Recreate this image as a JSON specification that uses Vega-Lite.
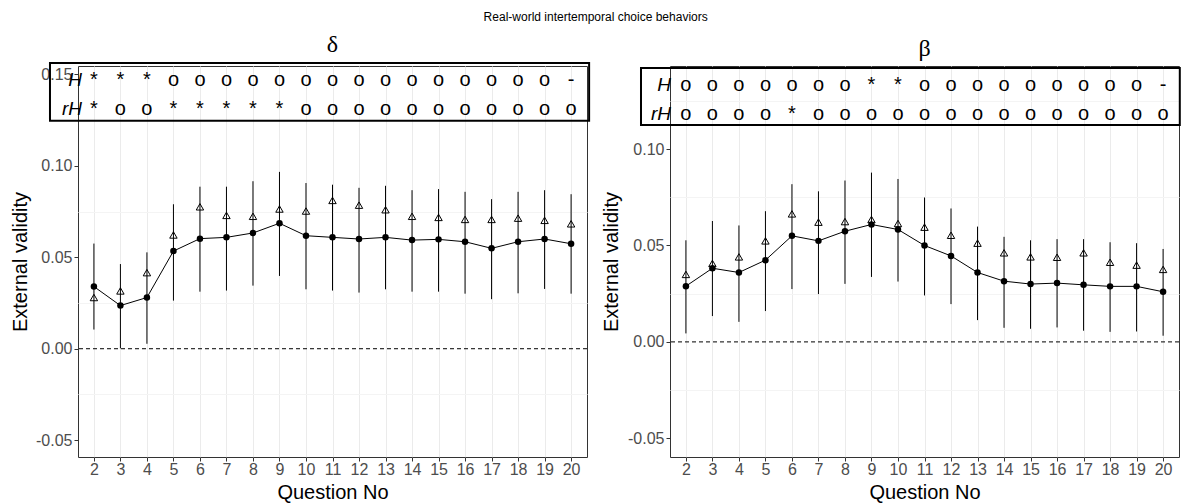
{
  "$schema": "https://vega.github.io/schema/vega-lite/v6.json",
  "padding": {"left": 10, "top": 11, "right": 8, "bottom": 0},
  "background": "white",
  "title": {"text": "Real-world intertemporal choice behaviors", "fontSize": 12, "fontWeight": "normal", "font": "Liberation Sans", "color": "black", "anchor": "middle", "offset": 8},
  "config": {
    "view": {"stroke": "#333333", "strokeWidth": 1},
    "axis": {"labelFont": "Liberation Sans", "titleFont": "Liberation Sans", "labelFontSize": 16, "labelColor": "#4d4d4d", "titleFontSize": 20, "titleColor": "black", "titleFontWeight": "normal", "tickColor": "#333333", "tickSize": 4, "domain": false, "gridColor": "#ebebeb", "gridWidth": 1, "labelPadding": 2},
    "text": {"font": "Liberation Sans"}
  },
  "datasets": {
    "delta": [
      {"q": 2, "est": 0.034, "tri": 0.028, "lo": 0.0105, "hi": 0.0575, "H": "*", "rH": "*"},
      {"q": 3, "est": 0.0236, "tri": 0.0316, "lo": 0.0002, "hi": 0.0463, "H": "*", "rH": "o"},
      {"q": 4, "est": 0.028, "tri": 0.0416, "lo": 0.0027, "hi": 0.0527, "H": "*", "rH": "o"},
      {"q": 5, "est": 0.0534, "tri": 0.0622, "lo": 0.0263, "hi": 0.079, "H": "o", "rH": "*"},
      {"q": 6, "est": 0.0602, "tri": 0.0776, "lo": 0.0312, "hi": 0.0886, "H": "o", "rH": "*"},
      {"q": 7, "est": 0.0609, "tri": 0.0729, "lo": 0.0318, "hi": 0.0886, "H": "o", "rH": "*"},
      {"q": 8, "est": 0.0633, "tri": 0.0724, "lo": 0.0345, "hi": 0.0916, "H": "o", "rH": "*"},
      {"q": 9, "est": 0.0686, "tri": 0.0764, "lo": 0.0398, "hi": 0.0967, "H": "o", "rH": "*"},
      {"q": 10, "est": 0.0618, "tri": 0.0753, "lo": 0.0325, "hi": 0.0906, "H": "o", "rH": "o"},
      {"q": 11, "est": 0.0609, "tri": 0.0811, "lo": 0.0318, "hi": 0.0897, "H": "o", "rH": "o"},
      {"q": 12, "est": 0.06, "tri": 0.0785, "lo": 0.0307, "hi": 0.088, "H": "o", "rH": "o"},
      {"q": 13, "est": 0.0609, "tri": 0.076, "lo": 0.0325, "hi": 0.0891, "H": "o", "rH": "o"},
      {"q": 14, "est": 0.0594, "tri": 0.0724, "lo": 0.0312, "hi": 0.0867, "H": "o", "rH": "o"},
      {"q": 15, "est": 0.0598, "tri": 0.0718, "lo": 0.0312, "hi": 0.0873, "H": "o", "rH": "o"},
      {"q": 16, "est": 0.0585, "tri": 0.0707, "lo": 0.0301, "hi": 0.0858, "H": "o", "rH": "o"},
      {"q": 17, "est": 0.0549, "tri": 0.0707, "lo": 0.0271, "hi": 0.0818, "H": "o", "rH": "o"},
      {"q": 18, "est": 0.0585, "tri": 0.0714, "lo": 0.0303, "hi": 0.0858, "H": "o", "rH": "o"},
      {"q": 19, "est": 0.06, "tri": 0.0702, "lo": 0.0327, "hi": 0.0867, "H": "o", "rH": "o"},
      {"q": 20, "est": 0.0574, "tri": 0.0683, "lo": 0.0301, "hi": 0.0845, "H": "-", "rH": "o"}
    ],
    "beta": [
      {"q": 2, "est": 0.0289, "tri": 0.035, "lo": 0.0044, "hi": 0.0527, "H": "o", "rH": "o"},
      {"q": 3, "est": 0.0382, "tri": 0.0407, "lo": 0.0134, "hi": 0.0627, "H": "o", "rH": "o"},
      {"q": 4, "est": 0.036, "tri": 0.0441, "lo": 0.0104, "hi": 0.0604, "H": "o", "rH": "o"},
      {"q": 5, "est": 0.0424, "tri": 0.0524, "lo": 0.016, "hi": 0.0678, "H": "o", "rH": "o"},
      {"q": 6, "est": 0.055, "tri": 0.0664, "lo": 0.0274, "hi": 0.0818, "H": "o", "rH": "*"},
      {"q": 7, "est": 0.0524, "tri": 0.0621, "lo": 0.0248, "hi": 0.0781, "H": "o", "rH": "o"},
      {"q": 8, "est": 0.0574, "tri": 0.0624, "lo": 0.0301, "hi": 0.0837, "H": "o", "rH": "o"},
      {"q": 9, "est": 0.0609, "tri": 0.0635, "lo": 0.0337, "hi": 0.0878, "H": "*", "rH": "o"},
      {"q": 10, "est": 0.0583, "tri": 0.0614, "lo": 0.0313, "hi": 0.0845, "H": "*", "rH": "o"},
      {"q": 11, "est": 0.05, "tri": 0.0595, "lo": 0.0241, "hi": 0.0749, "H": "o", "rH": "o"},
      {"q": 12, "est": 0.0446, "tri": 0.0553, "lo": 0.0196, "hi": 0.0692, "H": "o", "rH": "o"},
      {"q": 13, "est": 0.036, "tri": 0.0512, "lo": 0.0113, "hi": 0.0598, "H": "o", "rH": "o"},
      {"q": 14, "est": 0.0315, "tri": 0.0462, "lo": 0.0073, "hi": 0.0545, "H": "o", "rH": "o"},
      {"q": 15, "est": 0.03, "tri": 0.0441, "lo": 0.0068, "hi": 0.0527, "H": "o", "rH": "o"},
      {"q": 16, "est": 0.0305, "tri": 0.0439, "lo": 0.0075, "hi": 0.0533, "H": "o", "rH": "o"},
      {"q": 17, "est": 0.0296, "tri": 0.0462, "lo": 0.0058, "hi": 0.0533, "H": "o", "rH": "o"},
      {"q": 18, "est": 0.0288, "tri": 0.0413, "lo": 0.0052, "hi": 0.0517, "H": "o", "rH": "o"},
      {"q": 19, "est": 0.0288, "tri": 0.0398, "lo": 0.0054, "hi": 0.0512, "H": "o", "rH": "o"},
      {"q": 20, "est": 0.026, "tri": 0.0376, "lo": 0.0032, "hi": 0.0482, "H": "-", "rH": "o"}
    ]
  },
  "spacing": 10,
  "hconcat": [
    {
      "width": 509, "height": 391,
      "title": {"text": "δ", "font": "Liberation Serif", "fontSize": 24, "fontWeight": "normal", "color": "black", "anchor": "middle", "offset": 5},
      "data": {"name": "delta"},
      "layer": [
        {
          "layer": [
            {
              "data": {"values": [{"z": 0}]},
              "mark": {"type": "rule", "strokeDash": [4, 3], "color": "black", "strokeWidth": 1},
              "encoding": {
                "y": {"datum": 0, "type": "quantitative", "scale": {"domain": [-0.0592, 0.1546], "nice": false, "zero": false},
                  "axis": {"orient": "right", "values": [-0.025, 0.025, 0.075, 0.125], "labels": false, "ticks": false, "domain": false, "grid": true, "gridColor": "#f4f4f4", "title": null}}
              }
            },
            {
              "data": {"values": [{"z": 0}]},
              "mark": {"type": "rect", "fillOpacity": 0, "fill": "white", "stroke": "black", "strokeWidth": 2},
              "encoding": {
                "x": {"datum": 0.343, "type": "quantitative", "scale": {"domain": [1.4, 20.6], "nice": false, "zero": false}, "axis": null},
                "x2": {"datum": 20.68}, "y": {"datum": 0.1563}, "y2": {"datum": 0.1246}}
            },
            {
              "mark": {"type": "text", "fontSize": 20, "color": "black", "baseline": "middle", "align": "center"},
              "encoding": {"x": {"field": "q", "type": "quantitative", "axis": null}, "y": {"datum": 0.1468}, "text": {"field": "H"}}
            },
            {
              "mark": {"type": "text", "fontSize": 20, "color": "black", "baseline": "middle", "align": "center"},
              "encoding": {"x": {"field": "q", "type": "quantitative", "axis": null}, "y": {"datum": 0.1309}, "text": {"field": "rH"}}
            },
            {
              "data": {"values": [{"lab": "H"}]},
              "mark": {"type": "text", "fontSize": 19, "fontStyle": "italic", "color": "black", "baseline": "middle", "align": "right"},
              "encoding": {"x": {"datum": 1.55, "type": "quantitative", "axis": null}, "y": {"datum": 0.1468}, "text": {"field": "lab"}}
            },
            {
              "data": {"values": [{"lab": "rH"}]},
              "mark": {"type": "text", "fontSize": 19, "fontStyle": "italic", "color": "black", "baseline": "middle", "align": "right"},
              "encoding": {"x": {"datum": 1.55, "type": "quantitative", "axis": null}, "y": {"datum": 0.1309}, "text": {"field": "lab"}}
            }
          ]
        },
        {
          "layer": [
            {
              "mark": {"type": "rule", "color": "black", "strokeWidth": 1},
              "encoding": {
                "x": {"field": "q", "type": "ordinal", "scale": {"type": "point", "padding": 0.6},
                  "axis": {"labelAngle": 0, "grid": true, "labelPadding": 0, "title": "Question No", "titlePadding": 5}},
                "y": {"field": "lo", "type": "quantitative", "scale": {"domain": [-0.0592, 0.1546], "nice": false, "zero": false},
                  "axis": {"values": [-0.05, 0, 0.05, 0.1, 0.15], "labelExpr": "replace(format(datum.value, '.2f'), '\u2212', '-')", "title": "External validity", "titlePadding": 5}},
                "y2": {"field": "hi"}
              }
            },
            {
              "mark": {"type": "line", "color": "black", "strokeWidth": 1},
              "encoding": {"x": {"field": "q", "type": "ordinal"}, "y": {"field": "est", "type": "quantitative"}}
            },
            {
              "mark": {"type": "circle", "color": "black", "opacity": 1, "size": 42},
              "encoding": {"x": {"field": "q", "type": "ordinal"}, "y": {"field": "est", "type": "quantitative"}}
            },
            {
              "mark": {"type": "point", "shape": "triangle-up", "filled": false, "stroke": "black", "strokeWidth": 1, "opacity": 1, "size": 55},
              "encoding": {"x": {"field": "q", "type": "ordinal"}, "y": {"field": "tri", "type": "quantitative"}}
            }
          ]
        }
      ],
      "resolve": {"scale": {"x": "independent"}, "axis": {"x": "independent", "y": "independent"}}
    },
    {
      "width": 509, "height": 391,
      "title": {"text": "β", "font": "Liberation Serif", "fontSize": 24, "fontWeight": "normal", "color": "black", "anchor": "middle", "offset": 5},
      "data": {"name": "beta"},
      "layer": [
        {
          "layer": [
            {
              "data": {"values": [{"z": 0}]},
              "mark": {"type": "rule", "strokeDash": [4, 3], "color": "black", "strokeWidth": 1},
              "encoding": {
                "y": {"datum": 0, "type": "quantitative", "scale": {"domain": [-0.0597, 0.1431], "nice": false, "zero": false},
                  "axis": {"orient": "right", "values": [-0.025, 0.025, 0.075, 0.125], "labels": false, "ticks": false, "domain": false, "grid": true, "gridColor": "#f4f4f4", "title": null}}
              }
            },
            {
              "data": {"values": [{"z": 0}]},
              "mark": {"type": "rect", "fillOpacity": 0, "fill": "white", "stroke": "black", "strokeWidth": 2},
              "encoding": {
                "x": {"datum": 0.306, "type": "quantitative", "scale": {"domain": [1.4, 20.6], "nice": false, "zero": false}, "axis": null},
                "x2": {"datum": 20.63}, "y": {"datum": 0.142}, "y2": {"datum": 0.1125}}
            },
            {
              "mark": {"type": "text", "fontSize": 20, "color": "black", "baseline": "middle", "align": "center"},
              "encoding": {"x": {"field": "q", "type": "quantitative", "axis": null}, "y": {"datum": 0.1331}, "text": {"field": "H"}}
            },
            {
              "mark": {"type": "text", "fontSize": 20, "color": "black", "baseline": "middle", "align": "center"},
              "encoding": {"x": {"field": "q", "type": "quantitative", "axis": null}, "y": {"datum": 0.1184}, "text": {"field": "rH"}}
            },
            {
              "data": {"values": [{"lab": "H"}]},
              "mark": {"type": "text", "fontSize": 19, "fontStyle": "italic", "color": "black", "baseline": "middle", "align": "right"},
              "encoding": {"x": {"datum": 1.44, "type": "quantitative", "axis": null}, "y": {"datum": 0.1331}, "text": {"field": "lab"}}
            },
            {
              "data": {"values": [{"lab": "rH"}]},
              "mark": {"type": "text", "fontSize": 19, "fontStyle": "italic", "color": "black", "baseline": "middle", "align": "right"},
              "encoding": {"x": {"datum": 1.44, "type": "quantitative", "axis": null}, "y": {"datum": 0.1184}, "text": {"field": "lab"}}
            }
          ]
        },
        {
          "layer": [
            {
              "mark": {"type": "rule", "color": "black", "strokeWidth": 1},
              "encoding": {
                "x": {"field": "q", "type": "ordinal", "scale": {"type": "point", "padding": 0.6},
                  "axis": {"labelAngle": 0, "grid": true, "labelPadding": 0, "title": "Question No", "titlePadding": 5}},
                "y": {"field": "lo", "type": "quantitative", "scale": {"domain": [-0.0597, 0.1431], "nice": false, "zero": false},
                  "axis": {"values": [-0.05, 0, 0.05, 0.1], "labelExpr": "replace(format(datum.value, '.2f'), '\u2212', '-')", "title": "External validity", "titlePadding": 6}},
                "y2": {"field": "hi"}
              }
            },
            {
              "mark": {"type": "line", "color": "black", "strokeWidth": 1},
              "encoding": {"x": {"field": "q", "type": "ordinal"}, "y": {"field": "est", "type": "quantitative"}}
            },
            {
              "mark": {"type": "circle", "color": "black", "opacity": 1, "size": 42},
              "encoding": {"x": {"field": "q", "type": "ordinal"}, "y": {"field": "est", "type": "quantitative"}}
            },
            {
              "mark": {"type": "point", "shape": "triangle-up", "filled": false, "stroke": "black", "strokeWidth": 1, "opacity": 1, "size": 55},
              "encoding": {"x": {"field": "q", "type": "ordinal"}, "y": {"field": "tri", "type": "quantitative"}}
            }
          ]
        }
      ],
      "resolve": {"scale": {"x": "independent"}, "axis": {"x": "independent", "y": "independent"}}
    }
  ]
}
